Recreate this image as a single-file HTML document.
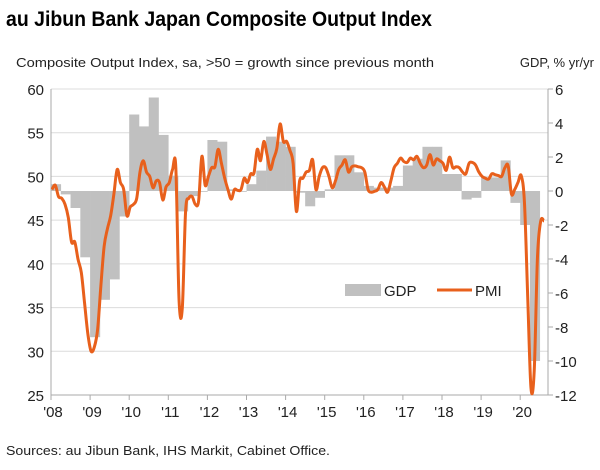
<!DOCTYPE html>
<html><head><meta charset="utf-8">
<style>
body{margin:0;background:#fff;width:600px;height:465px;overflow:hidden;font-family:"Liberation Sans",sans-serif;}
</style></head>
<body>
<svg id="chart" width="600" height="465" xmlns="http://www.w3.org/2000/svg" font-family="Liberation Sans, sans-serif">
<text x="6" y="26" font-size="21" font-weight="bold" fill="#000" textLength="426" lengthAdjust="spacingAndGlyphs">au Jibun Bank Japan Composite Output Index</text>
<text x="16" y="67" font-size="13" fill="#222" textLength="418" lengthAdjust="spacingAndGlyphs">Composite Output Index, sa, &gt;50 = growth since previous month</text>
<text x="594" y="67" font-size="13" fill="#222" text-anchor="end">GDP, % yr/yr</text>
<text x="6" y="455" font-size="13" fill="#222" textLength="324" lengthAdjust="spacingAndGlyphs">Sources: au Jibun Bank, IHS Markit, Cabinet Office.</text>
<g id="grid"></g><g id="bars"></g><g id="axes"></g><g id="line"></g>
<g>
<rect x="345" y="284" width="36" height="12" fill="#c0c0c0"/>
<text x="384" y="296" font-size="15" fill="#222">GDP</text>
<line x1="437" y1="290" x2="472" y2="290" stroke="#e8601c" stroke-width="3"/>
<text x="475" y="296" font-size="15" fill="#222">PMI</text>
</g>
</svg>
<script>
const yearLabels=["'08","'09","'10","'11","'12","'13","'14","'15","'16","'17","'18","'19","'20"];
const leftTicks=[25,30,35,40,45,50,55,60];
const rightTicks=[-12,-10,-8,-6,-4,-2,0,2,4,6];
const gdp=[0.4,-0.2,-1.0,-3.9, -8.6,-6.4,-5.2,-1.5, 4.5,3.8,5.5,3.3, 0.9,-1.2,-0.3,0.0, 3.0,2.9,0.1,0.0, 0.4,1.2,3.2,2.9, 2.6,-0.1,-0.9,-0.4, 0.1,2.1,2.1,1.1, 0.3,0.2,0.2,0.3, 1.5,1.9,2.6,2.6, 1.0,1.0,-0.5,-0.4, 0.8,0.8,1.8,-0.7, -2.0,-10.0];
const pmi=[48.5,49.0,47.7,47.5,46.8,45.3,42.5,42.5,40.5,39.0,35.5,32.0,
30.0,30.5,32.5,37.5,42.0,44.0,45.5,48.0,50.8,49.3,48.5,45.5,
46.5,46.8,47.5,50.5,51.8,50.5,50.0,48.7,49.5,49.3,47.3,48.8,
49.3,50.8,51.0,35.8,35.0,46.0,47.5,47.7,46.8,47.2,52.3,49.0,
50.0,51.0,51.1,53.1,51.5,49.8,48.5,47.4,48.5,48.4,48.5,49.8,
49.3,50.3,50.4,53.1,51.8,54.0,52.5,50.8,52.0,53.2,56.0,54.0,
54.0,53.0,51.5,46.0,49.5,49.8,50.5,50.7,51.9,48.5,50.0,51.0,
51.0,50.0,48.7,49.5,50.8,51.3,51.9,50.5,51.1,51.2,51.1,51.0,
50.5,48.5,48.2,48.3,48.5,49.3,48.8,48.2,49.5,51.0,51.5,52.1,
51.7,51.6,52.1,51.9,52.3,51.5,51.0,51.3,52.5,51.3,52.0,51.8,
51.5,50.7,52.2,51.0,51.1,51.0,50.5,50.3,51.5,51.6,51.3,50.5,
50.0,49.8,49.7,50.3,50.2,50.1,50.0,51.0,51.2,48.0,48.5,49.3,
50.1,47.0,36.2,25.8,27.8,40.8,44.9,44.9];
const X0=51,X1=548,YT=89,YB=395,YEARW=39.1;
const yL=v=>YT+(60-v)*(YB-YT)/35;
const yR=v=>YT+(6-v)*(YB-YT)/18;
const xM=i=>X0+1+i*(YEARW/12);
const xQ=q=>X0+q*(YEARW/4);
const NS='http://www.w3.org/2000/svg';
function mk(tag,attrs,parent,text){const e=document.createElementNS(NS,tag);for(const k in attrs)e.setAttribute(k,attrs[k]);if(text!==undefined)e.textContent=text;document.getElementById(parent).appendChild(e);return e;}
leftTicks.forEach(v=>{
 if(v>25){const g=mk('line',{x1:X0,x2:X1,y1:yL(v),y2:yL(v),stroke:'#dcdcdc','stroke-width':1},'grid');
 
 }
 const t=mk('text',{x:44,y:yL(v)+6,'font-size':15,'text-anchor':'end',fill:'#222'},'axes',String(v));
 
 
});
rightTicks.forEach(v=>{
 const l=mk('line',{x1:X1,x2:X1+5,y1:yR(v),y2:yR(v),stroke:'#aaa'},'axes');
 
 
 const t=mk('text',{x:X1+7,y:yR(v)+6,'font-size':15,fill:'#222'},'axes',String(v));
 
 
});
gdp.forEach((v,q)=>{
 const y0=yR(0),y1=yR(v);
 const r=mk('rect',{x:xQ(q),y:Math.min(y0,y1),width:YEARW/4+0.3,height:Math.max(0.8,Math.abs(y1-y0)),fill:'#c0c0c0'},'bars');
 
 
});
let a=mk('line',{x1:X0,x2:X0,y1:YT,y2:YB,stroke:'#aaa'},'axes');


a=mk('line',{x1:X1,x2:X1,y1:YT,y2:YB,stroke:'#aaa'},'axes');


a=mk('line',{x1:X0,x2:X1,y1:YB,y2:YB,stroke:'#aaa'},'axes');


yearLabels.forEach((s,i)=>{
 const x=X0+i*YEARW;
 const l=mk('line',{x1:x,x2:x,y1:YB,y2:YB+5,stroke:'#aaa'},'axes');
 
 
 const t=mk('text',{x:x+2,y:YB+22,'font-size':15,'text-anchor':'middle',fill:'#222'},'axes',s);
 
 
});
const pts=pmi.map((v,i)=>[xM(i),yL(v)]);
let d='M'+pts[0][0]+','+pts[0][1];
for(let i=0;i<pts.length-1;i++){
 const p0=pts[Math.max(0,i-1)],p1=pts[i],p2=pts[i+1],p3=pts[Math.min(pts.length-1,i+2)];
 const c1=[p1[0]+(p2[0]-p0[0])/6,p1[1]+(p2[1]-p0[1])/6],c2=[p2[0]-(p3[0]-p1[0])/6,p2[1]-(p3[1]-p1[1])/6];
 d+=' C'+c1.join(',')+' '+c2.join(',')+' '+p2.join(',');
}
const path=mk('path',{d:d,fill:'none',stroke:'#e8601c','stroke-width':3,'stroke-linejoin':'round'},'line');


</script>
</body></html>
